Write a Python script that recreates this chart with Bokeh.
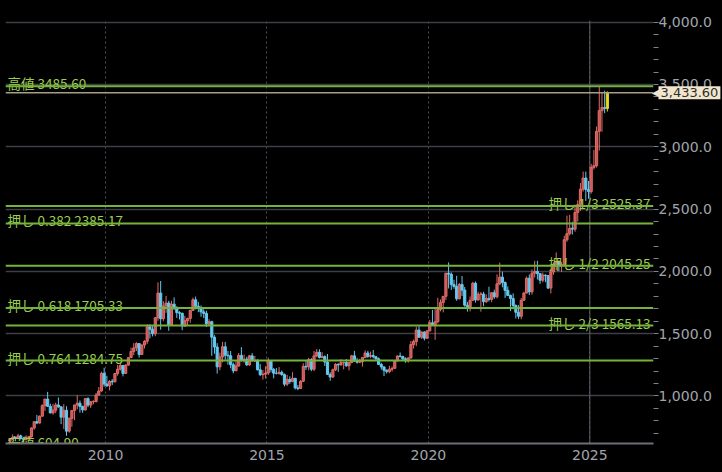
from bokeh.plotting import figure
from bokeh.models import (ColumnDataSource, Span, Label,
                          SingleIntervalTicker, FixedTicker, NumeralTickFormatter)
from bokeh.core.properties import value
from bokeh.embed import file_html
from bokeh.resources import INLINE

# ---------------- data (monthly OHLC, Jan 2007 .. Jul 2025) ----------------
START_YEAR = 2007
FIRST_OPEN = 636.0

CLOSE = [
    650.5, 669, 663, 680, 659, 650, 667, 673, 743, 794, 783, 838,
    923, 975, 917, 864, 886, 928, 913, 830, 885, 718, 819, 884,
    928, 942, 916, 888, 979, 927, 954, 955, 1008, 1040, 1182, 1096,
    1081, 1118, 1113, 1180, 1215, 1245, 1181, 1248, 1308, 1357, 1386, 1421,
    1333, 1409, 1439, 1556, 1536, 1500, 1628, 1826, 1620, 1722, 1746, 1566,
    1737, 1711, 1669, 1664, 1561, 1604, 1622, 1687, 1772, 1720, 1711, 1675,
    1663, 1578, 1596, 1472, 1393, 1234, 1313, 1395, 1327, 1323, 1251, 1202,
    1240, 1326, 1284, 1296, 1250, 1322, 1282, 1287, 1210, 1171, 1175, 1184,
    1279, 1213, 1183, 1182, 1190, 1172, 1095, 1132, 1115, 1142, 1065, 1060,
    1118, 1238, 1233, 1293, 1215, 1322, 1351, 1309, 1316, 1273, 1173, 1152,
    1211, 1254, 1249, 1268, 1268, 1242, 1269, 1322, 1280, 1271, 1275, 1309,
    1345, 1318, 1325, 1315, 1299, 1253, 1233, 1206, 1196, 1215, 1222, 1282,
    1321, 1316, 1298, 1283, 1305, 1413, 1437, 1529, 1472, 1513, 1464, 1523,
    1587, 1566, 1596, 1694, 1751, 1800, 1986, 1978, 1895, 1879, 1780, 1895,
    1850, 1729, 1715, 1768, 1905, 1771, 1817, 1818, 1757, 1783, 1775, 1829,
    1796, 1900, 1954, 1911, 1848, 1807, 1782, 1726, 1672, 1640, 1768, 1826,
    1945, 1836, 1986, 1999, 1982, 1929, 1970, 1966, 1866, 1996, 2057, 2072,
    2054, 2054, 2254, 2303, 2346, 2339, 2473, 2536, 2660, 2749, 2658, 2641,
    2835, 2848, 3124, 3290, 3315, 3307, 3433.6,
]

HIGH = [
    652, 691, 673, 697, 690, 672, 684, 679, 749, 795, 848, 843,
    933, 977, 1033, 938, 937, 946, 988, 914, 934, 918, 829, 884,
    929, 1007, 964, 922, 980, 989, 960, 966, 1025, 1072, 1195, 1227,
    1162, 1127, 1136, 1181, 1249, 1266, 1245, 1254, 1310, 1388, 1424, 1432,
    1424, 1413, 1448, 1575, 1577, 1561, 1632, 1912, 1923, 1761, 1803, 1764,
    1764, 1791, 1720, 1680, 1668, 1643, 1629, 1692, 1790, 1798, 1755, 1727,
    1696, 1684, 1617, 1604, 1488, 1424, 1348, 1434, 1434, 1362, 1361, 1267,
    1280, 1345, 1392, 1332, 1315, 1330, 1345, 1322, 1294, 1256, 1208, 1239,
    1307, 1283, 1224, 1224, 1232, 1205, 1181, 1170, 1157, 1191, 1144, 1088,
    1127, 1263, 1287, 1306, 1304, 1362, 1377, 1375, 1352, 1326, 1337, 1191,
    1220, 1264, 1262, 1296, 1275, 1297, 1274, 1330, 1362, 1306, 1299, 1310,
    1366, 1362, 1356, 1369, 1317, 1309, 1266, 1237, 1214, 1243, 1237, 1284,
    1326, 1349, 1324, 1310, 1311, 1442, 1453, 1555, 1566, 1518, 1518, 1525,
    1611, 1691, 1704, 1788, 1775, 1801, 1985, 2072, 1992, 1933, 1965, 1907,
    1963, 1875, 1755, 1799, 1916, 1919, 1836, 1834, 1836, 1815, 1877, 1831,
    1853, 1976, 2070, 1998, 1919, 1879, 1814, 1824, 1735, 1729, 1786, 1836,
    1959, 1975, 2015, 2085, 2085, 1985, 1990, 1975, 1953, 2022, 2072, 2152,
    2088, 2075, 2286, 2448, 2454, 2398, 2537, 2570, 2709, 2801, 2801, 2726,
    2863, 2974, 3163, 3485.6, 3439, 3451, 3445,
]

LOW = [
    604.9, 645, 636, 661, 651, 640, 646, 645, 667, 729, 774, 778,
    836, 880, 914, 861, 850, 862, 906, 774, 735, 681, 705, 753,
    806, 893, 866, 865, 884, 910, 904, 933, 948, 1002, 1034, 1075,
    1075, 1045, 1088, 1112, 1163, 1204, 1157, 1176, 1243, 1308, 1328, 1361,
    1308, 1330, 1381, 1417, 1462, 1478, 1480, 1603, 1532, 1600, 1667, 1523,
    1562, 1690, 1627, 1614, 1527, 1555, 1564, 1587, 1684, 1695, 1672, 1636,
    1625, 1554, 1562, 1322, 1339, 1180, 1207, 1270, 1291, 1251, 1222, 1182,
    1202, 1238, 1277, 1268, 1240, 1241, 1280, 1273, 1205, 1160, 1132, 1141,
    1168, 1190, 1142, 1173, 1171, 1162, 1077, 1080, 1098, 1113, 1052, 1046,
    1058, 1111, 1208, 1206, 1199, 1200, 1311, 1301, 1303, 1241, 1171, 1122,
    1146, 1200, 1194, 1245, 1214, 1236, 1205, 1262, 1273, 1261, 1264, 1236,
    1302, 1307, 1303, 1302, 1282, 1250, 1211, 1160, 1180, 1183, 1196, 1221,
    1276, 1310, 1281, 1266, 1267, 1302, 1381, 1400, 1466, 1458, 1445, 1458,
    1517, 1563, 1451, 1583, 1679, 1671, 1770, 1863, 1851, 1860, 1764, 1776,
    1803, 1717, 1677, 1679, 1765, 1750, 1764, 1677, 1720, 1746, 1758, 1753,
    1780, 1783, 1890, 1872, 1787, 1805, 1681, 1709, 1622, 1617, 1616, 1765,
    1824, 1810, 1814, 1950, 1935, 1900, 1912, 1913, 1858, 1823, 1973, 2011,
    2002, 1996, 2044, 2237, 2287, 2296, 2318, 2400, 2485, 2640, 2565, 2583,
    2624, 2818, 2833, 2970, 3121, 3270, 3283,
]

LEVEL_NAMES = ["高値", "押し 1/3", "押し 0.382", "押し 1/2",
               "押し 0.618", "押し 2/3", "押し 0.764", "安値"]
LEVEL_VALUES = [3485.60, 2525.37, 2385.17, 2045.25, 1705.33, 1565.13, 1284.75, 604.90]
LEVEL_SIDE = ["left", "right", "left", "right", "left", "right", "left", "left"]
LAST_PRICE = 3433.60
X_TICKS = [2010, 2015, 2020, 2025]

# ---------------- styles / layout ----------------
X_START, X_END = 2006.903, 2026.971
Y_START, Y_END = 618.7, 4013.6
BG = "#000000"
UP = "#e06c6a"
UP_FILL = "#c85754"
DOWN = "#64c8ef"
CUR = "#e8d51e"
GREEN_LINE = "#74b43c"
GREEN_TEXT = "#9ccd4e"
GRID = "#3c3f46"
AXIS_TEXT = "#a0a5ad"
TAG = "#f1e5cd"

W, H = 722, 472
BL, BR, BT, BB = 5, 69, 20, 29

p = figure(width=W, height=H, x_range=(X_START, X_END), y_range=(Y_START, Y_END),
           output_backend="svg", toolbar_location=None, y_axis_location="right",
           background_fill_color=BG, border_fill_color=BG,
           min_border_left=BL, min_border_top=BT, min_border_right=BR, min_border_bottom=BB)
p.outline_line_color = None

# axes / grids
p.yaxis.ticker = SingleIntervalTicker(interval=500, num_minor_ticks=5)
p.yaxis.formatter = NumeralTickFormatter(format="0,0.0")
p.yaxis.axis_line_color = None
p.yaxis.major_tick_line_color = None
p.yaxis.major_tick_out = 0
p.yaxis.major_tick_in = 0
p.yaxis.minor_tick_line_color = "#80838a"
p.yaxis.minor_tick_out = 5
p.yaxis.minor_tick_in = 0
p.yaxis.major_label_standoff = 0
p.yaxis.major_label_text_font = "DejaVu Sans"
p.yaxis.major_label_text_font_size = "14px"
p.yaxis.major_label_text_color = AXIS_TEXT

p.xaxis.ticker = FixedTicker(ticks=X_TICKS, minor_ticks=[])
p.xaxis.axis_line_color = "#6c6f76"
p.xaxis.axis_line_width = 2
p.xaxis.major_tick_line_color = None
p.xaxis.major_tick_out = 0
p.xaxis.minor_tick_line_color = None
p.xaxis.major_label_standoff = 6
p.xaxis.major_label_text_font = "DejaVu Sans"
p.xaxis.major_label_text_font_size = "14px"
p.xaxis.major_label_text_color = AXIS_TEXT

p.ygrid.grid_line_color = GRID
p.ygrid.grid_line_width = 1.5
p.xgrid.grid_line_color = "#4d5058"
p.xgrid.grid_line_dash = "2 3"
p.xgrid.grid_line_width = 1

p.add_layout(Span(location=X_TICKS[-1], dimension="height", line_color="#5e6168",
                  line_width=1, level="underlay"))

# candles
n = len(CLOSE)
opens = [FIRST_OPEN] + CLOSE[:-1]
xs = [START_YEAR + (i + 0.5) / 12 for i in range(n)]
line_c, fill_c = [], []
for i in range(n):
    if i == n - 1:
        line_c.append(CUR); fill_c.append(CUR)
    elif CLOSE[i] >= opens[i]:
        line_c.append(UP); fill_c.append(UP_FILL)
    else:
        line_c.append(DOWN); fill_c.append(DOWN)
src = ColumnDataSource(dict(
    x=xs, high=HIGH, low=LOW,
    top=[max(o, c) for o, c in zip(opens, CLOSE)],
    bottom=[min(o, c) for o, c in zip(opens, CLOSE)],
    lc=line_c, fc=fill_c))
p.segment(x0="x", y0="low", x1="x", y1="high", line_color="lc", line_width=1, source=src)
p.vbar(x="x", width=0.8 / 12, top="top", bottom="bottom", fill_color="fc",
       line_color="lc", line_width=1, source=src)

# retracement lines and labels
for v in LEVEL_VALUES:
    p.add_layout(Span(location=v, dimension="width", line_color=GREEN_LINE, line_width=2))
p.add_layout(Span(location=LAST_PRICE, dimension="width", line_color="#a79e8a", line_width=1.5))

texts = [f"{nm} {v:.2f}" for nm, v in zip(LEVEL_NAMES, LEVEL_VALUES)]
left = [i for i, s in enumerate(LEVEL_SIDE) if s == "left"]
right = [i for i, s in enumerate(LEVEL_SIDE) if s == "right"]
lsrc = ColumnDataSource(dict(x=[X_START] * len(left), y=[LEVEL_VALUES[i] for i in left],
                             t=[texts[i] for i in left]))
rsrc = ColumnDataSource(dict(x=[X_END] * len(right), y=[LEVEL_VALUES[i] for i in right],
                             t=[texts[i] for i in right]))
p.text(x="x", y="y", text="t", source=lsrc, text_font=value("Noto Sans CJK JP"),
       text_font_size="13.5px", text_color=GREEN_TEXT, text_align="left",
       text_baseline="alphabetic", x_offset=2, y_offset=-3)
p.text(x="x", y="y", text="t", source=rsrc, text_font=value("Noto Sans CJK JP"),
       text_font_size="13.5px", text_color=GREEN_TEXT, text_align="right",
       text_baseline="alphabetic", x_offset=-3, y_offset=-3)

# price tag: side-panel annotations are not clipped to the frame,
# but are positioned with the frame's own data scales
arrow = Label(x=X_END, y=LAST_PRICE, x_offset=6, text="◀",
              text_align="right", text_baseline="middle",
              text_font="DejaVu Sans", text_font_size="10px", text_color=TAG)
p.add_layout(arrow, "right")
tag = Label(x=X_END, y=LAST_PRICE, x_offset=5, text=f"{LAST_PRICE:,.2f}",
            text_align="left", text_baseline="middle",
            text_font="DejaVu Sans", text_font_size="13px", text_color="#2e2e2e",
            background_fill_color=TAG, background_fill_alpha=1, padding=2)
p.add_layout(tag, "above")

TPL = '{% block preamble %}<style>html,body{background:#000000;}</style>{% endblock %}'
open("out.html", "w").write(file_html(p, INLINE, template=TPL))
